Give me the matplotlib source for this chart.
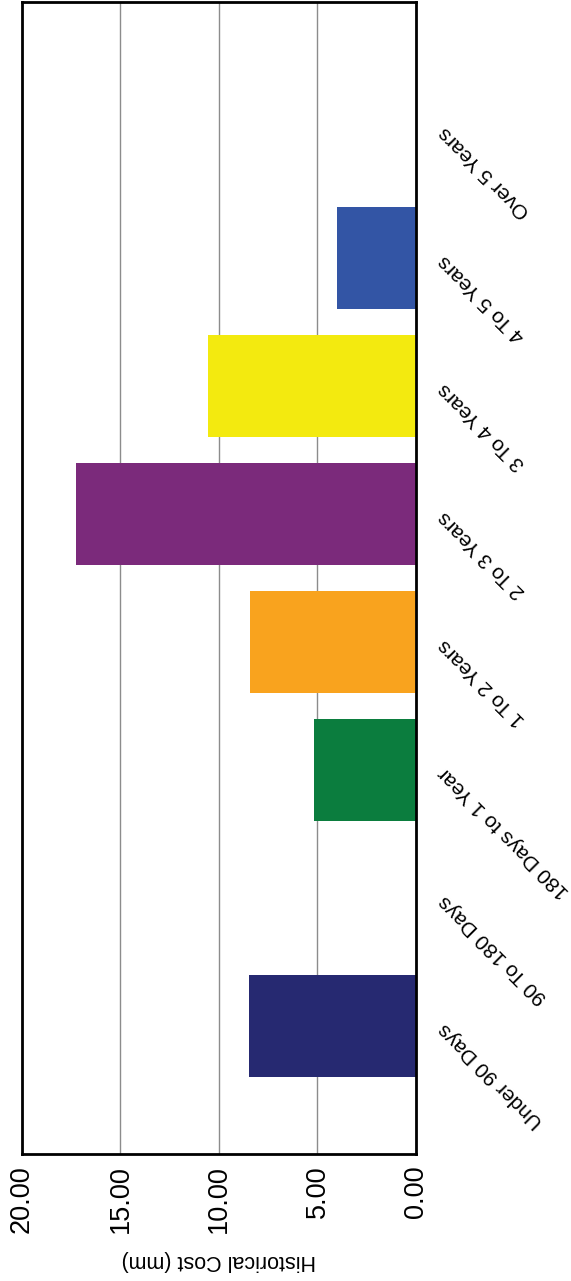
import matplotlib
matplotlib.use("Agg")
import matplotlib.pyplot as plt
import matplotlib.transforms as mtransforms

plt.rcParams['font.family'] = ['Liberation Sans', 'DejaVu Sans']

# Aging buckets and historical cost values (mm)
categories = ["Under 90 Days", "90 To 180 Days", "180 Days to 1 Year", "1 To 2 Years",
              "2 To 3 Years", "3 To 4 Years", "4 To 5 Years", "Over 5 Years"]
values = [8.5, 0.0, 5.2, 8.45, 17.25, 10.55, 4.0, 0.0]
colors = ["#262971", "#ffffff", "#0B7D3E", "#F9A31E", "#7B2A7B", "#F3EA0F", "#3355A5", "#ffffff"]
tick_values = [0, 5, 10, 15, 20]
tick_labels = ["0.00", "5.00", "10.00", "15.00", "20.00"]
axis_title = "Historical Cost (mm)"

fig = plt.figure(figsize=(5.71, 12.81), dpi=100)
ax = fig.add_axes([0.0385, 0.0991, 0.690, 0.8993])

positions = list(range(len(categories)))
for pos, val, col in zip(positions, values, colors):
    if val > 0:
        ax.barh(pos, val, height=0.8, color=col, zorder=3, linewidth=0)

ax.set_xlim(20, 0)
ax.set_ylim(-1, len(categories))

ax.set_xticks(tick_values)
ax.set_xticklabels(tick_labels, rotation=90, fontsize=19.5, va='top')
ax.tick_params(axis='x', length=0, pad=8)
ax.set_yticks([])
ax.grid(axis='x', color='#8c8c8c', linewidth=1.0, zorder=0)
ax.set_axisbelow(True)

for side in ax.spines.values():
    side.set_linewidth(2.0)
    side.set_color('black')
    side.set_zorder(5)

ax.set_xlabel(axis_title, rotation=180, fontsize=15.5, labelpad=12)

# Category labels to the right of the axes, drawn at 135 degrees
trans = mtransforms.blended_transform_factory(ax.transAxes, ax.transData)
for pos, name in zip(positions, categories):
    ax.text(1.065, pos, name, transform=trans, rotation=135, rotation_mode='anchor',
            ha='right', va='center', fontsize=15, clip_on=False)

fig.savefig("out.png", dpi=100)
